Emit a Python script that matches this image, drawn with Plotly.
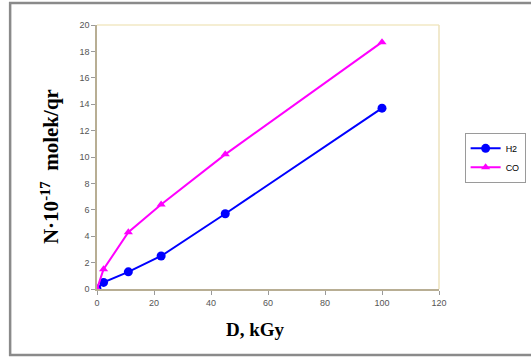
import plotly.graph_objects as go

# Absorbed dose, kGy
dose = [0, 2.3, 11, 22.5, 45, 100]
# Radiolytic gas yield, N·10^-17 molecules per gram
h2 = [0, 0.5, 1.3, 2.5, 5.7, 13.7]
co = [0, 1.5, 4.3, 6.4, 10.2, 18.7]

x_ticks = [0, 20, 40, 60, 80, 100, 120]
y_ticks = [0, 2, 4, 6, 8, 10, 12, 14, 16, 18, 20]

fig = go.Figure()
fig.add_trace(go.Scatter(
    x=dose, y=h2, name="H2", mode="lines+markers",
    line=dict(color="#0000ff", width=2),
    marker=dict(symbol="circle", size=9, color="#0000ff"),
))
fig.add_trace(go.Scatter(
    x=dose, y=co, name="CO", mode="lines+markers",
    line=dict(color="#ff00ff", width=2),
    marker=dict(symbol="triangle-up", size=8, color="#ff00ff"),
))

axis_common = dict(
    showgrid=False, zeroline=False, showline=True, linecolor="#b8ae94",
    linewidth=1.5, ticks="outside", ticklen=4, tickcolor="#9a9a9a",
    tickfont=dict(family="Arial", size=9, color="#555555"),
)
fig.update_xaxes(range=[0, 120], tickvals=x_ticks, **axis_common)
fig.update_yaxes(range=[0, 20], tickvals=y_ticks, **axis_common)

shapes = [
    # outer chart frame
    dict(type="rect", xref="paper", yref="paper", x0=-0.254, x1=1.30, y0=-0.25, y1=1.083,
         line=dict(color="#8a8a8a", width=2.5), layer="below"),
    # plot-area border on top and right
    dict(type="line", xref="paper", yref="paper", x0=0, x1=1, y0=1, y1=1,
         line=dict(color="#f2e8c4", width=1.5)),
    dict(type="line", xref="paper", yref="paper", x0=1, x1=1, y0=0, y1=1,
         line=dict(color="#ece2bc", width=1.5)),
]

annotations = [
    dict(text="<b>N·10<sup>-17</sup>  molek/qr</b>", xref="paper", yref="paper",
         x=-0.138, y=0.465, xanchor="center", yanchor="middle",
         textangle=-90, showarrow=False,
         font=dict(family="Liberation Serif", size=21, color="#000000")),
    dict(text="<b>D, kGy</b>", xref="paper", yref="paper",
         x=0.462, y=-0.155, xanchor="center", yanchor="middle", showarrow=False,
         font=dict(family="Liberation Serif", size=19, color="#000000")),
]

fig.update_layout(
    width=531, height=361,
    margin=dict(l=97, r=92, t=25, b=72, autoexpand=False),
    paper_bgcolor="white", plot_bgcolor="white",
    shapes=shapes, annotations=annotations,
    legend=dict(xref="container", yref="container", x=0.875, y=0.632,
                xanchor="left", yanchor="top",
                bordercolor="#9a9a9a", borderwidth=1, bgcolor="white",
                font=dict(family="Arial", size=9, color="#000000"),
                itemwidth=30, tracegroupgap=0),
    showlegend=True,
)

fig.write_html("out.html")
